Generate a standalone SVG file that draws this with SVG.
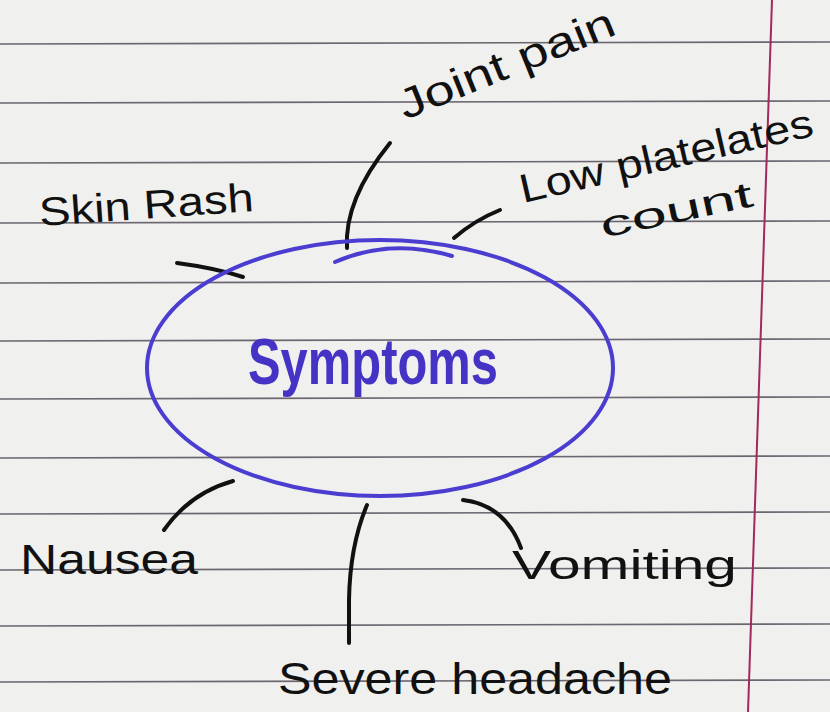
<svg xmlns="http://www.w3.org/2000/svg" width="830" height="712" viewBox="0 0 830 712">
  <style>
    .rule { stroke: #4a4450; stroke-width: 1.6; opacity: 0.8; }
    .ink { font-family: "Liberation Sans", "DejaVu Sans", sans-serif; fill: #111; }
    .conn { fill: none; stroke: #111; stroke-width: 4; stroke-linecap: round; }
    .blue { fill: none; stroke: #4a3dd0; stroke-width: 4; stroke-linecap: round; }
  </style>
  <rect x="0" y="0" width="830" height="712" fill="#f0f0ee"/>
  <g id="paper">
    <line class="rule" x1="0" y1="44" x2="830" y2="42"/>
    <line class="rule" x1="0" y1="103" x2="830" y2="101"/>
    <line class="rule" x1="0" y1="163" x2="830" y2="161"/>
    <line class="rule" x1="0" y1="223" x2="830" y2="221"/>
    <line class="rule" x1="0" y1="283" x2="830" y2="281"/>
    <line class="rule" x1="0" y1="341" x2="830" y2="339"/>
    <line class="rule" x1="0" y1="399" x2="830" y2="397"/>
    <line class="rule" x1="0" y1="458" x2="830" y2="456"/>
    <line class="rule" x1="0" y1="514" x2="830" y2="512"/>
    <line class="rule" x1="0" y1="570" x2="830" y2="568"/>
    <line class="rule" x1="0" y1="626" x2="830" y2="624"/>
    <line class="rule" x1="0" y1="682" x2="830" y2="680"/>
    <line x1="772" y1="0" x2="748" y2="712" stroke="#a3285c" stroke-width="2"/>
  </g>
  <g id="connectors">
    <path class="conn" d="M347,248 C345,215 360,180 390,143"/>
    <path class="conn" d="M454,238 Q475,220 500,210"/>
    <path class="conn" d="M177,263 Q215,268 243,277"/>
    <path class="conn" d="M233,481 Q190,493 164,530"/>
    <path class="conn" d="M367,505 Q350,545 349,600 L349,643"/>
    <path class="conn" d="M463,500 Q505,505 521,548"/>
  </g>
  <g id="symptoms">
    <ellipse class="blue" cx="380" cy="368" rx="233" ry="128"/>
    <path class="blue" d="M335,262 Q390,238 452,256"/>
    <text x="248" y="384" font-family="Liberation Sans, DejaVu Sans, sans-serif" font-size="64" font-weight="bold" fill="#4433c4" textLength="250" lengthAdjust="spacingAndGlyphs">Symptoms</text>
  </g>
  <g id="joint-pain">
    <text class="ink" x="405" y="120" font-size="42" textLength="230" lengthAdjust="spacingAndGlyphs" transform="rotate(-22 405 120)">Joint pain</text>
  </g>
  <g id="low-platelets">
    <text class="ink" x="523" y="203" font-size="40" textLength="300" lengthAdjust="spacingAndGlyphs" transform="rotate(-13 523 203)">Low platelates</text>
    <text class="ink" x="603" y="238" font-size="36" textLength="155" lengthAdjust="spacingAndGlyphs" transform="rotate(-12 603 238)">count</text>
  </g>
  <g id="skin-rash">
    <text class="ink" x="40" y="226" font-size="40" textLength="215" lengthAdjust="spacingAndGlyphs" transform="rotate(-4 40 226)">Skin Rash</text>
  </g>
  <g id="nausea">
    <text class="ink" x="20" y="574" font-size="42" textLength="178" lengthAdjust="spacingAndGlyphs">Nausea</text>
  </g>
  <g id="severe-headache">
    <text class="ink" x="278" y="694" font-size="44" textLength="394" lengthAdjust="spacingAndGlyphs">Severe headache</text>
  </g>
  <g id="vomiting">
    <text class="ink" x="512" y="579" font-size="40" textLength="225" lengthAdjust="spacingAndGlyphs">Vomiting</text>
  </g>
</svg>
